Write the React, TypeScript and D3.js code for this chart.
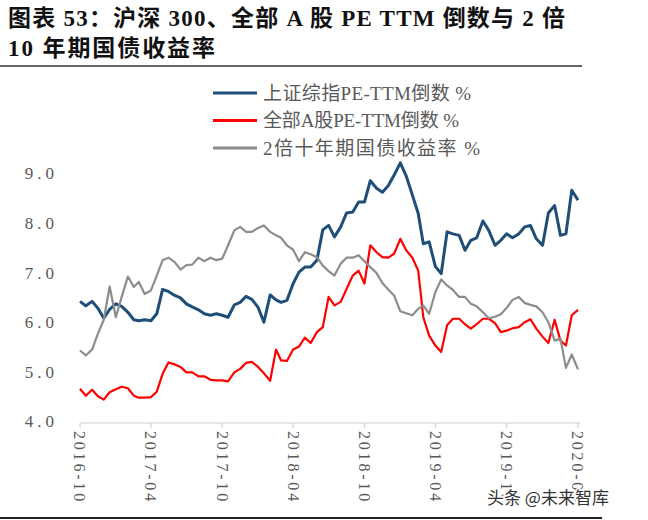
import { useEffect, useRef } from "react";
import * as d3 from "d3";

const BLUE = "#1f4e79";
const RED = "#ff0000";
const GRAY = "#8c8c8c";
const TEXT = "#595959";

// semi-monthly observations, 2016-10-01 .. 2020-04-01
const months = d3.timeMonth.range(new Date(2016, 9, 1), new Date(2020, 4, 1));
const dates = months
  .flatMap((m) => [m, new Date(m.getFullYear(), m.getMonth(), 16)])
  .slice(0, 85);

// 上证综指 PE-TTM 倒数 (%)
const shPE = [
  6.42, 6.33, 6.42, 6.28, 6.08, 6.26, 6.37, 6.32, 6.2, 6.05,
  6.03, 6.05, 6.03, 6.17, 6.66, 6.62, 6.54, 6.49, 6.37, 6.31,
  6.25, 6.17, 6.14, 6.17, 6.14, 6.1, 6.35, 6.4, 6.52, 6.46,
  6.3, 6.0, 6.55, 6.45, 6.4, 6.44, 6.78, 7.01, 7.11, 7.11,
  7.25, 7.86, 7.95, 7.72, 7.92, 8.2, 8.22, 8.42, 8.42, 8.85,
  8.7, 8.62, 8.75, 8.96, 9.21, 8.95, 8.56, 8.19, 7.58, 7.62,
  7.12, 6.98, 7.82, 7.78, 7.75, 7.45, 7.65, 7.7, 8.04, 7.85,
  7.55, 7.65, 7.78, 7.7, 7.78, 7.92, 7.95, 7.68, 7.55, 8.2,
  8.35, 7.75, 7.78, 8.66, 8.46,
];

// 全部A股 PE-TTM 倒数 (%)
const allAPE = [
  4.66, 4.52, 4.64, 4.51, 4.44, 4.59, 4.65, 4.7, 4.67, 4.52,
  4.48, 4.48, 4.49, 4.6, 4.96, 5.19, 5.15, 5.1, 4.99, 4.99,
  4.91, 4.91, 4.84, 4.83, 4.83, 4.81, 4.99, 5.06, 5.18, 5.2,
  5.1, 4.97, 4.82, 5.45, 5.23, 5.22, 5.45, 5.51, 5.69, 5.58,
  5.8, 5.9, 6.51, 6.34, 6.41, 6.67, 6.94, 7.04, 6.78, 7.55,
  7.41, 7.31, 7.3, 7.38, 7.68, 7.45, 7.3, 7.04, 6.1, 5.73,
  5.53, 5.4, 5.94, 6.07, 6.07, 5.96, 5.87, 5.96, 6.07, 6.07,
  5.98, 5.8, 5.83, 5.88, 5.9, 6.0, 6.06, 5.87, 5.71, 5.58,
  6.05, 5.63, 5.53, 6.14, 6.25,
];

// 2倍十年期国债收益率 (%)
const bond2x = [
  5.43, 5.33, 5.45, 5.77, 6.05, 6.72, 6.1, 6.51, 6.92, 6.71,
  6.81, 6.57, 6.64, 6.94, 7.25, 7.3, 7.21, 7.06, 7.15, 7.16,
  7.3, 7.23, 7.3, 7.25, 7.28, 7.55, 7.85, 7.92, 7.82, 7.82,
  7.9, 7.95, 7.82, 7.75, 7.7, 7.55, 7.46, 7.23, 7.41, 7.37,
  7.31, 7.14, 7.03, 6.94, 7.18, 7.3, 7.3, 7.35, 7.23, 7.11,
  6.99, 6.79, 6.66, 6.54, 6.22, 6.18, 6.14, 6.27, 6.34, 6.17,
  6.61, 6.86, 6.74, 6.65, 6.51, 6.51, 6.37, 6.32, 6.2, 6.08,
  6.11, 6.16, 6.29, 6.45, 6.51, 6.39, 6.35, 6.32, 6.2, 6.0,
  5.63, 5.67, 5.08, 5.35, 5.05,
];

const seriesNames = ["上证综指PE-TTM倒数 %", "全部A股PE-TTM倒数 %", "2倍十年期国债收益率 %"];
const xTickLabels = ["2016-10", "2017-04", "2017-10", "2018-04", "2018-10", "2019-04", "2019-10", "2020-04"];
const yTicks = [4, 5, 6, 7, 8, 9];

export default function App() {
  const ref = useRef<SVGSVGElement>(null);

  useEffect(() => {
    if (!ref.current) return;
    const width = 648;
    const height = 520;
    const svg = d3.select(ref.current);
    svg.selectAll("*").remove();
    svg.attr("width", width).attr("height", height);

    svg.append("rect").attr("width", width).attr("height", height).attr("fill", "#fff");

    const parse = d3.timeParse("%Y-%m");
    const tickDates = xTickLabels.map((s) => parse(s) as Date);

    const x = d3
      .scaleTime()
      .domain([tickDates[0], tickDates[tickDates.length - 1]])
      .range([80, 578]);
    const y = d3.scaleLinear().domain([4, 9]).range([421.5, 173.3]);

    // title
    const title = svg
      .append("g")
      .attr("font-family", "'Liberation Serif', 'Noto Sans CJK SC', serif")
      .attr("font-weight", "bold")
      .attr("font-size", 23)
      .attr("fill", "#111");
    title
      .append("text")
      .attr("x", 8)
      .attr("y", 26)
      .attr("textLength", 557)
      .attr("lengthAdjust", "spacing")
      .text("图表 53：沪深 300、全部 A 股 PE TTM 倒数与 2 倍");
    title
      .append("text")
      .attr("x", 8)
      .attr("y", 56)
      .attr("textLength", 207)
      .attr("lengthAdjust", "spacing")
      .text("10 年期国债收益率");

    svg
      .append("line")
      .attr("x1", 0)
      .attr("x2", 582)
      .attr("y1", 66)
      .attr("y2", 66)
      .attr("stroke", "#333")
      .attr("stroke-width", 1.5);

    svg
      .append("line")
      .attr("x1", 0)
      .attr("x2", 602)
      .attr("y1", 518)
      .attr("y2", 518)
      .attr("stroke", "#222")
      .attr("stroke-width", 2);

    // y labels
    svg
      .append("g")
      .selectAll("text")
      .data(yTicks)
      .join("text")
      .attr("x", 58)
      .attr("y", (d) => y(d))
      .attr("dy", "0.35em")
      .attr("text-anchor", "end")
      .attr("font-family", "'Liberation Serif', serif")
      .attr("font-size", 17)
      .attr("letter-spacing", 4)
      .attr("fill", TEXT)
      .text((d) => d3.format(".1f")(d));

    // x axis
    const axisY = y(4) + 1.5;
    svg
      .append("line")
      .attr("x1", x(tickDates[0]))
      .attr("x2", x(tickDates[tickDates.length - 1]) + 2)
      .attr("y1", axisY)
      .attr("y2", axisY)
      .attr("stroke", "#d0d0d0")
      .attr("stroke-width", 1.2);
    svg
      .append("g")
      .selectAll("line")
      .data(tickDates)
      .join("line")
      .attr("x1", (d) => x(d))
      .attr("x2", (d) => x(d))
      .attr("y1", axisY)
      .attr("y2", axisY + 5)
      .attr("stroke", "#d0d0d0")
      .attr("stroke-width", 1.2);
    svg
      .append("g")
      .selectAll("text")
      .data(tickDates)
      .join("text")
      .attr("transform", (d) => `translate(${x(d)},${axisY + 8}) rotate(90)`)
      .attr("dy", "0.35em")
      .attr("font-family", "'Liberation Serif', serif")
      .attr("font-size", 16)
      .attr("letter-spacing", 2.8)
      .attr("fill", TEXT)
      .text((d, i) => xTickLabels[i]);

    // series
    const makeLine = (vals: number[]) =>
      d3
        .line<Date>()
        .x((d) => x(d))
        .y((d, i) => y(vals[i]));

    const series = [
      { vals: shPE, color: BLUE, w: 3 },
      { vals: allAPE, color: RED, w: 2.2 },
      { vals: bond2x, color: GRAY, w: 2.2 },
    ];
    series.forEach((s) => {
      svg
        .append("path")
        .datum(dates)
        .attr("d", makeLine(s.vals))
        .attr("fill", "none")
        .attr("stroke", s.color)
        .attr("stroke-width", s.w)
        .attr("stroke-linejoin", "round");
    });

    // legend
    const legendWidths = [208, 196, 217];
    const legend = svg
      .append("g")
      .selectAll("g")
      .data(seriesNames)
      .join("g")
      .attr("transform", (d, i) => `translate(213,${93 + i * 27.5})`);
    legend
      .append("line")
      .attr("x1", 0)
      .attr("x2", 44)
      .attr("stroke", (d, i) => series[i].color)
      .attr("stroke-width", 3);
    legend
      .append("text")
      .attr("x", 50)
      .attr("dy", "0.36em")
      .attr("font-family", "'Liberation Serif', 'Noto Sans CJK SC', serif")
      .attr("font-size", 19)
      .attr("fill", TEXT)
      .attr("textLength", (d, i) => legendWidths[i])
      .attr("lengthAdjust", "spacing")
      .text((d) => d);

    // watermark
    svg
      .append("text")
      .attr("x", 487)
      .attr("y", 504)
      .attr("font-family", "'Noto Sans CJK SC', sans-serif")
      .attr("font-size", 17)
      .attr("fill", "#333")
      .attr("stroke", "#fff")
      .attr("stroke-width", 3)
      .attr("paint-order", "stroke")
      .text("头条 @未来智库");
  }, []);

  return (
    <div style={{ position: "absolute", left: 0, top: 0 }}>
      <svg ref={ref} style={{ display: "block" }} />
    </div>
  );
}
